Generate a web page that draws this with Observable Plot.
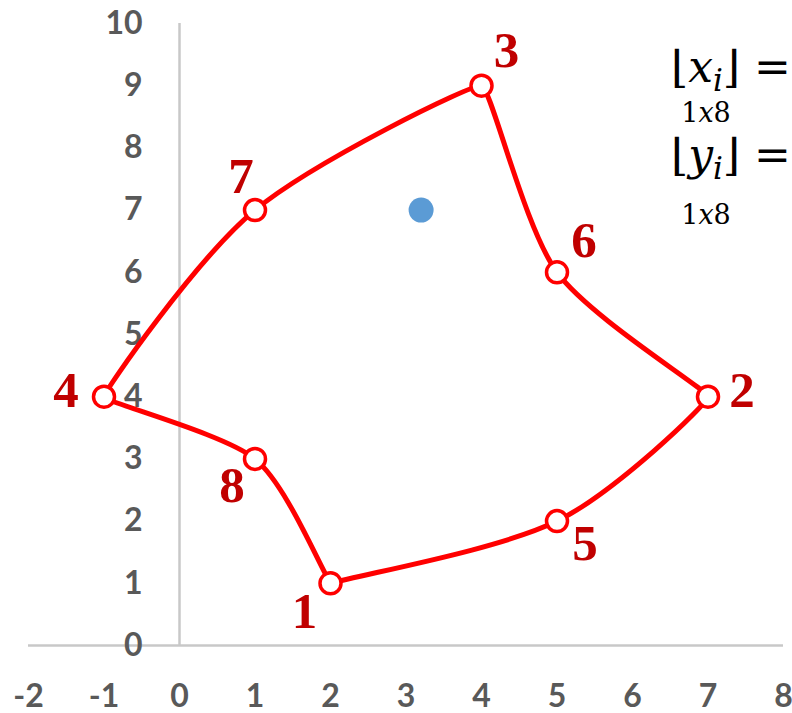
<!DOCTYPE html>
<html><head><meta charset="utf-8">
<script src="https://cdn.jsdelivr.net/npm/d3@7"></script>
<script src="https://cdn.jsdelivr.net/npm/@observablehq/plot@0.6"></script>
<style>
body{margin:0;background:#fff}
#chart{position:relative;width:792px;height:713px;overflow:hidden}
</style>
</head><body><div id="chart"></div>
<script>
// ---- data ----
const pointLabels = ["1","2","3","4","5","6","7","8"];
const xValues = [2, 7, 4, -1, 5, 5, 1, 1];
const yValues = [1, 4, 9, 4, 2, 6, 7, 3];
const pathOrder = ["1","5","2","6","3","7","4","8","1"];
const centroidX = [3.2];
const centroidY = [7];
const xTicks = [-2,-1,0,1,2,3,4,5,6,7,8];
const yTicks = [0,1,2,3,4,5,6,7,8,9,10];
const xDomain = [-2, 8];
const yDomain = [0, 10];

// ---- build tables ----
const points = pointLabels.map((label, i) => ({label, x: xValues[i], y: yValues[i]}));
const byLabel = new Map(points.map(p => [p.label, p]));
const path = pathOrder.map(l => byLabel.get(l));
const centroid = centroidX.map((x, i) => ({x, y: centroidY[i]}));

// spreadsheet-like smoothed line: Bezier handles along the neighbour tangent,
// shortened at sharp turns (works in screen space, fed by Plot's scales)
function smoothCurve(context) {
  let pts;
  return {
    areaStart() {}, areaEnd() {},
    lineStart() { pts = []; },
    point(x, y) { pts.push([+x, +y]); },
    lineEnd() {
      const n = pts.length;
      if (!n) return;
      context.moveTo(pts[0][0], pts[0][1]);
      if (n === 1) return;
      const h = pts.map((p, i) => {
        const a = pts[Math.max(i - 1, 0)], b = pts[Math.min(i + 1, n - 1)];
        let s = 1;
        if (i > 0 && i < n - 1) {
          const ux = a[0] - p[0], uy = a[1] - p[1], vx = b[0] - p[0], vy = b[1] - p[1];
          const c = (ux * vx + uy * vy) / (Math.hypot(ux, uy) * Math.hypot(vx, vy));
          s = Math.pow((1 - c) / 2, 2);
        }
        return [(b[0] - a[0]) / 6 * s, (b[1] - a[1]) / 6 * s];
      });
      for (let i = 0; i < n - 1; i++) {
        const p = pts[i], q = pts[i + 1];
        context.bezierCurveTo(p[0] + h[i][0], p[1] + h[i][1], q[0] - h[i + 1][0], q[1] - h[i + 1][1], q[0], q[1]);
      }
    }
  };
}

// label placement (styling)
const labelOffset = {
  "1": [-26, 28], "2": [34, -6], "3": [25, -35], "4": [-38, -6],
  "5": [28, 23], "6": [27, -32], "7": [-14, -33], "8": [-23, 27]
};

const labelMarks = pointLabels.map(l => Plot.text(points.filter(p => p.label === l), {
  x: "x", y: "y", text: "label",
  dx: labelOffset[l][0], dy: labelOffset[l][1],
  fill: "#C00000", fontSize: 51, fontWeight: "bold",
  fontFamily: "'Liberation Serif', serif"
}));

const chart = Plot.plot({
  width: 792, height: 713,
  marginLeft: 28, marginRight: 9, marginTop: 23, marginBottom: 68,
  x: {domain: xDomain, axis: null},
  y: {domain: yDomain, axis: null},
  style: {fontFamily: "Lato, sans-serif", color: "#595959", background: "#fff", overflow: "visible"},
  marks: [
    Plot.ruleX([0], {y1: yDomain[0], y2: yDomain[1], stroke: "#C8C8C8", strokeWidth: 2.5}),
    Plot.ruleY([0], {x1: xDomain[0], x2: xDomain[1], stroke: "#C8C8C8", strokeWidth: 2.5}),
    Plot.axisY(yTicks, {anchor: "left", tickSize: 0, tickPadding: 0, dx: 114, label: null,
      tickFormat: d => String(d), fontSize: 32, fontWeight: "bold", fill: "#595959"}),
    Plot.axisX(xTicks, {anchor: "bottom", tickSize: 0, tickPadding: 39, label: null,
      tickFormat: d => String(d), fontSize: 32, fontWeight: "bold", fill: "#595959"}),
    Plot.line(path, {x: "x", y: "y", curve: smoothCurve, stroke: "#FF0000", strokeWidth: 5}),
    Plot.dot(points, {x: "x", y: "y", r: 10.5, fill: "#fff", stroke: "#FF0000", strokeWidth: 3.5}),
    Plot.dot(centroid, {x: "x", y: "y", r: 12.5, fill: "#5B9BD5"}),
    ...labelMarks
  ]
});
document.getElementById("chart").appendChild(chart);

// ---- math annotation (text) ----
const svg = d3.select(chart);
const g = svg.append("g").attr("font-family", "'DejaVu Serif', serif").attr("fill", "#000");
function mathLine(baseline, v, subBaseline) {
  const t = g.append("text").attr("x", 791).attr("y", baseline).attr("font-size", 44).attr("text-anchor", "end");
  t.append("tspan").text("\u230A");
  t.append("tspan").attr("font-style", "italic").text(v);
  t.append("tspan").attr("font-style", "italic").attr("font-size", 31).attr("dy", 9).text("i");
  t.append("tspan").attr("dy", -9).text("\u230B =");
  const s = g.append("text").attr("x", 706).attr("y", subBaseline).attr("font-size", 27).attr("text-anchor", "middle");
  s.append("tspan").text("1");
  s.append("tspan").attr("font-style", "italic").text("x");
  s.append("tspan").text("8");
}
mathLine(82, "x", 122);
mathLine(170, "y", 224);
</script>
</body></html>
